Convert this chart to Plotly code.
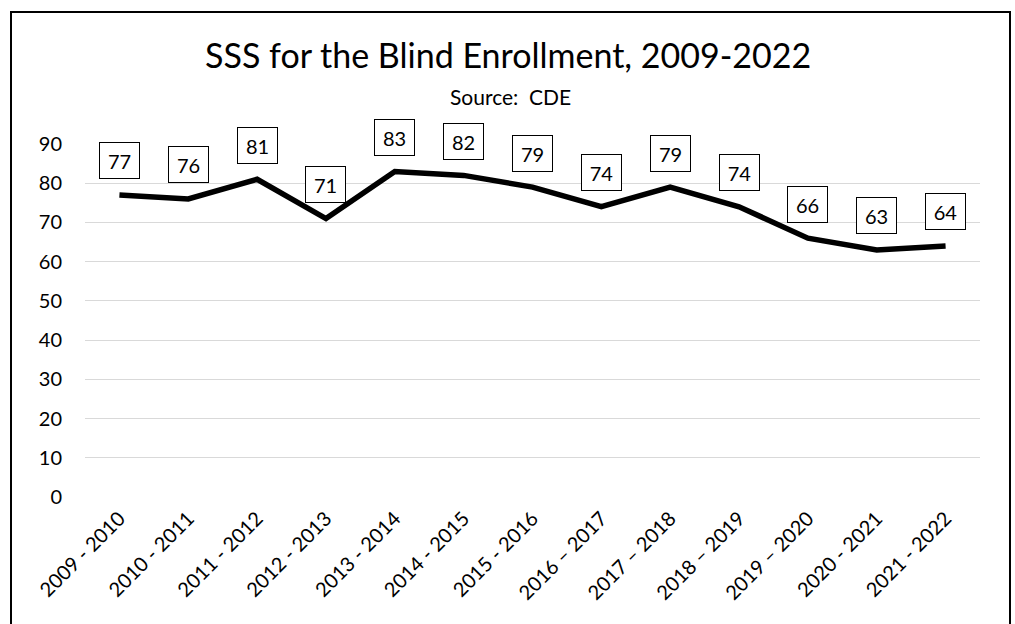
import plotly.graph_objects as go

categories = ["2009 - 2010", "2010 - 2011", "2011 - 2012", "2012 - 2013", "2013 - 2014",
              "2014 - 2015", "2015 - 2016", "2016 \u2013 2017", "2017 \u2013 2018",
              "2018 \u2013 2019", "2019 \u2013 2020", "2020 - 2021", "2021 - 2022"]
enrollment = [77, 76, 81, 71, 83, 82, 79, 74, 79, 74, 66, 63, 64]
y_ticks = [0, 10, 20, 30, 40, 50, 60, 70, 80, 90]

FONT = "Lato"
W, H = 1015, 624
ML, MR, MT, MB = 85, 35, 144, 127
plot_h = H - MT - MB

def py(pix):
    # convert a page pixel y to paper coordinate
    return 1 + (MT - pix) / plot_h

def px(pix):
    return (pix - ML) / (W - ML - MR)

fig = go.Figure()
fig.add_trace(go.Scatter(
    x=categories, y=enrollment, mode="lines",
    line=dict(color="black", width=5.5),
    hoverinfo="skip", showlegend=False,
))

annotations = []
for c, v in zip(categories, enrollment):
    annotations.append(dict(
        x=c, y=v, xref="x", yref="y", text=str(v), showarrow=False,
        yshift=34, width=37, height=33, borderpad=1, borderwidth=1,
        bordercolor="black", bgcolor="white",
        font=dict(family=FONT, size=20, color="black"),
        align="center", valign="middle",
    ))

annotations.append(dict(
    x=px(508), xref="paper", y=py(55), yref="paper", yanchor="middle",
    text="SSS for the Blind Enrollment, 2009-2022", showarrow=False,
    font=dict(family=FONT, size=34, color="black"),
))
annotations.append(dict(
    x=px(510), xref="paper", y=py(96), yref="paper", yanchor="middle",
    text="Source:  CDE", showarrow=False,
    font=dict(family=FONT, size=21, color="black"),
))

fig.update_layout(
    width=W, height=H,
    margin=dict(l=ML, r=MR, t=MT, b=MB),
    paper_bgcolor="white", plot_bgcolor="white",
    annotations=annotations,
    shapes=[dict(type="rect", xref="paper", yref="paper",
                 x0=px(11), x1=px(1010), y0=py(700), y1=py(12),
                 line=dict(color="black", width=2), layer="below")],
    xaxis=dict(
        type="category", range=[-0.5, len(categories) - 0.5],
        tickangle=-45, showgrid=False, zeroline=False, showline=False,
        ticks="", ticklabelstandoff=5,
        tickfont=dict(family=FONT, size=20, color="black"),
    ),
    yaxis=dict(
        range=[0, 90], tickvals=y_ticks, showgrid=True, gridcolor="#d9d9d9",
        gridwidth=1.3, zeroline=False, showline=False, ticks="",
        ticklabelstandoff=22,
        tickfont=dict(family=FONT, size=20, color="black"),
    ),
)

fig.write_html("out.html")
